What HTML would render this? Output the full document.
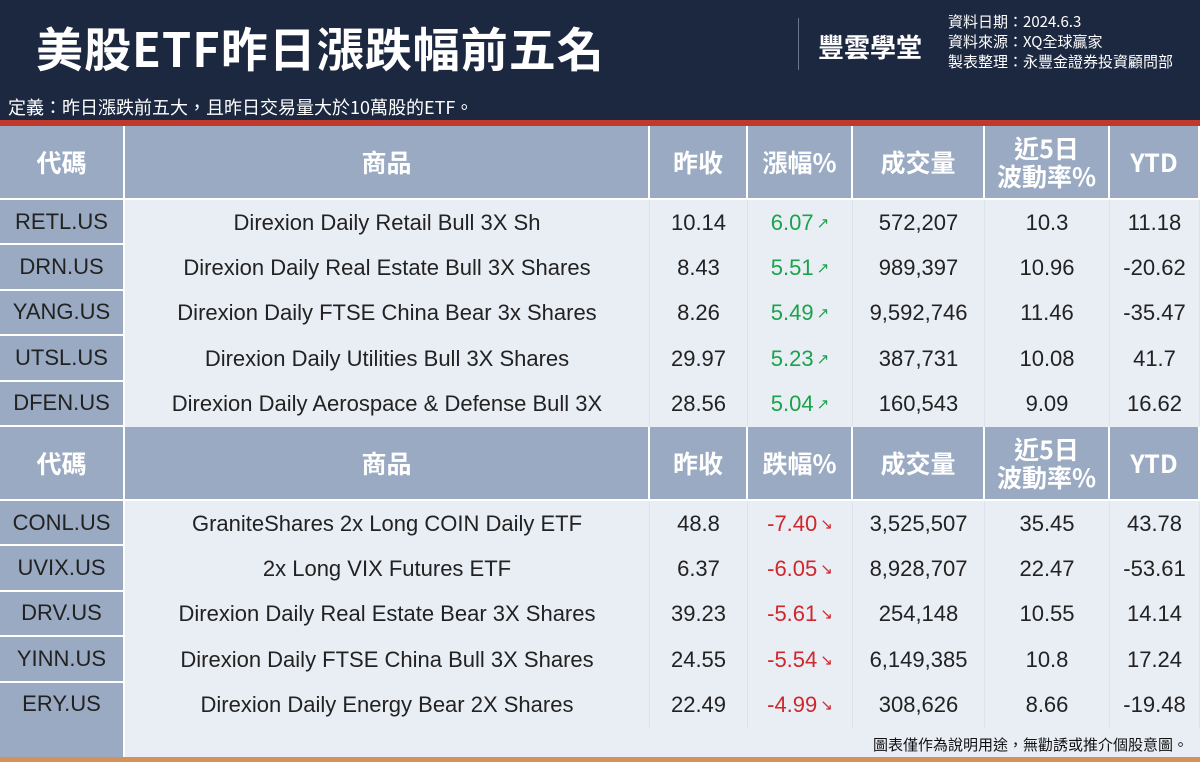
<!DOCTYPE html>
<html><head><meta charset="utf-8">
<style>
*{margin:0;padding:0;box-sizing:border-box}
body{width:1200px;height:762px;overflow:hidden;background:#e9edf4;font-family:"Liberation Sans","Noto Sans CJK TC",sans-serif;position:relative}
.abs{position:absolute}
#top{left:0;top:0;width:1200px;height:122px;background:#1c2740}
#title{left:36px;top:12px;font-size:47px;font-weight:bold;color:#fff;font-family:"Noto Sans CJK TC",sans-serif;letter-spacing:1px}
#divider{left:798px;top:18px;width:1px;height:52px;background:#6c768a}
#logo{left:818px;top:28px;font-size:26px;font-weight:bold;color:#fff;font-family:"Noto Sans CJK TC",sans-serif}
#meta{left:948px;top:12px;font-size:15px;color:#fff;line-height:20px;font-family:"Noto Sans CJK TC",sans-serif}
#def{left:8px;top:94px;font-size:18px;color:#fff;font-family:"Noto Sans CJK TC",sans-serif}
#redline{left:0;top:120px;width:1200px;height:6px;background:#c0392b}
#bottom{left:0;top:757px;width:1200px;height:5px;background:#d4915a}
#note{right:12px;top:734px;font-size:15px;color:#111;font-family:"Noto Sans CJK TC",sans-serif}
.cell{position:absolute;display:flex;align-items:center;justify-content:center;text-align:center;border-right:2px solid #fff;border-bottom:2px solid #fff}
.hd{background:#9aaac2;color:#fff;font-weight:bold;font-size:25px;font-family:"Noto Sans CJK TC",sans-serif;line-height:28px}
.dt{font-size:22px;color:#222;border-right:1px solid #dde3ec;border-bottom:none}
.code{background:#9aaac2;border-bottom:2px solid #fff;border-right:2px solid #fff}
.up{color:#1aa34a}.dn{color:#d0262c}
.ar{font-size:15px;margin-left:3px;font-family:"DejaVu Sans",sans-serif}
</style></head><body>
<div id="top" class="abs"></div>
<div id="title" class="abs">美股ETF昨日漲跌幅前五名</div>
<div id="divider" class="abs"></div>
<div id="logo" class="abs">豐雲學堂</div>
<div id="meta" class="abs">資料日期：2024.6.3<br>資料來源：XQ全球贏家<br>製表整理：永豐金證券投資顧問部</div>
<div id="def" class="abs">定義：昨日漲跌前五大，且昨日交易量大於10萬股的ETF。</div>
<div id="redline" class="abs"></div>
<div id="table"></div>
<div class="abs code" style="left:0;top:726px;width:125px;height:31px;border-bottom:none"></div>
<div id="note" class="abs">圖表僅作為說明用途，無勸誘或推介個股意圖。</div>
<div id="bottom" class="abs"></div>
<script>
const colX=[0,125,650,748,853,985,1110,1200];
const headersUp=["代碼","商品","昨收","漲幅%","成交量","近5日<br>波動率%","YTD"];
const headersDn=["代碼","商品","昨收","跌幅%","成交量","近5日<br>波動率%","YTD"];
const codesUp=["RETL.US","DRN.US","YANG.US","UTSL.US","DFEN.US"];
const namesUp=["Direxion Daily Retail Bull 3X Sh","Direxion Daily Real Estate Bull 3X Shares","Direxion Daily FTSE China Bear 3x Shares","Direxion Daily Utilities Bull 3X Shares","Direxion Daily Aerospace & Defense Bull 3X"];
const closeUp=["10.14","8.43","8.26","29.97","28.56"];
const chgUp=["6.07","5.51","5.49","5.23","5.04"];
const volUp=["572,207","989,397","9,592,746","387,731","160,543"];
const volaUp=["10.3","10.96","11.46","10.08","9.09"];
const ytdUp=["11.18","-20.62","-35.47","41.7","16.62"];
const codesDn=["CONL.US","UVIX.US","DRV.US","YINN.US","ERY.US"];
const namesDn=["GraniteShares 2x Long COIN Daily ETF","2x Long VIX Futures ETF","Direxion Daily Real Estate Bear 3X Shares","Direxion Daily FTSE China Bull 3X Shares","Direxion Daily Energy Bear 2X Shares"];
const closeDn=["48.8","6.37","39.23","24.55","22.49"];
const chgDn=["-7.40","-6.05","-5.61","-5.54","-4.99"];
const volDn=["3,525,507","8,928,707","254,148","6,149,385","308,626"];
const volaDn=["35.45","22.47","10.55","10.8","8.66"];
const ytdDn=["43.78","-53.61","14.14","17.24","-19.48"];
const colNames=["code","product","prev-close","change","volume","volatility","ytd"];
const T=document.getElementById('table');
function cell(x,y,w,h,html,cls,name,inter){
  const d=document.createElement('div');
  d.className='cell '+cls;
  d.style.left=x+'px';d.style.top=y+'px';d.style.width=w+'px';d.style.height=h+'px';
  d.innerHTML=html;
  
  
  T.appendChild(d);
}
function block(top,headers,codes,names,close,chg,vol,vola,ytd,up){
  for(let c=0;c<7;c++){
    cell(colX[c],top,colX[c+1]-colX[c],74,headers[c],'hd',colNames[c]+'-header',false);
  }
  const rh=45.4;
  for(let r=0;r<codes.length;r++){
    const y=top+74+r*rh;
    const vals=[codes[r],names[r],close[r],chg[r]+'<span class="ar">'+(up?'↗':'↘')+'</span>',vol[r],vola[r],ytd[r]];
    for(let c=0;c<7;c++){
      let cls=c===0?'dt code':'dt';
      if(c===3) cls+=up?' up':' dn';
      cell(colX[c],y,colX[c+1]-colX[c],rh,vals[c],cls,colNames[c]+'-cell',false);
    }
  }
}
block(126,headersUp,codesUp,namesUp,closeUp,chgUp,volUp,volaUp,ytdUp,true);
block(427,headersDn,codesDn,namesDn,closeDn,chgDn,volDn,volaDn,ytdDn,false);
</script>
</body></html>
